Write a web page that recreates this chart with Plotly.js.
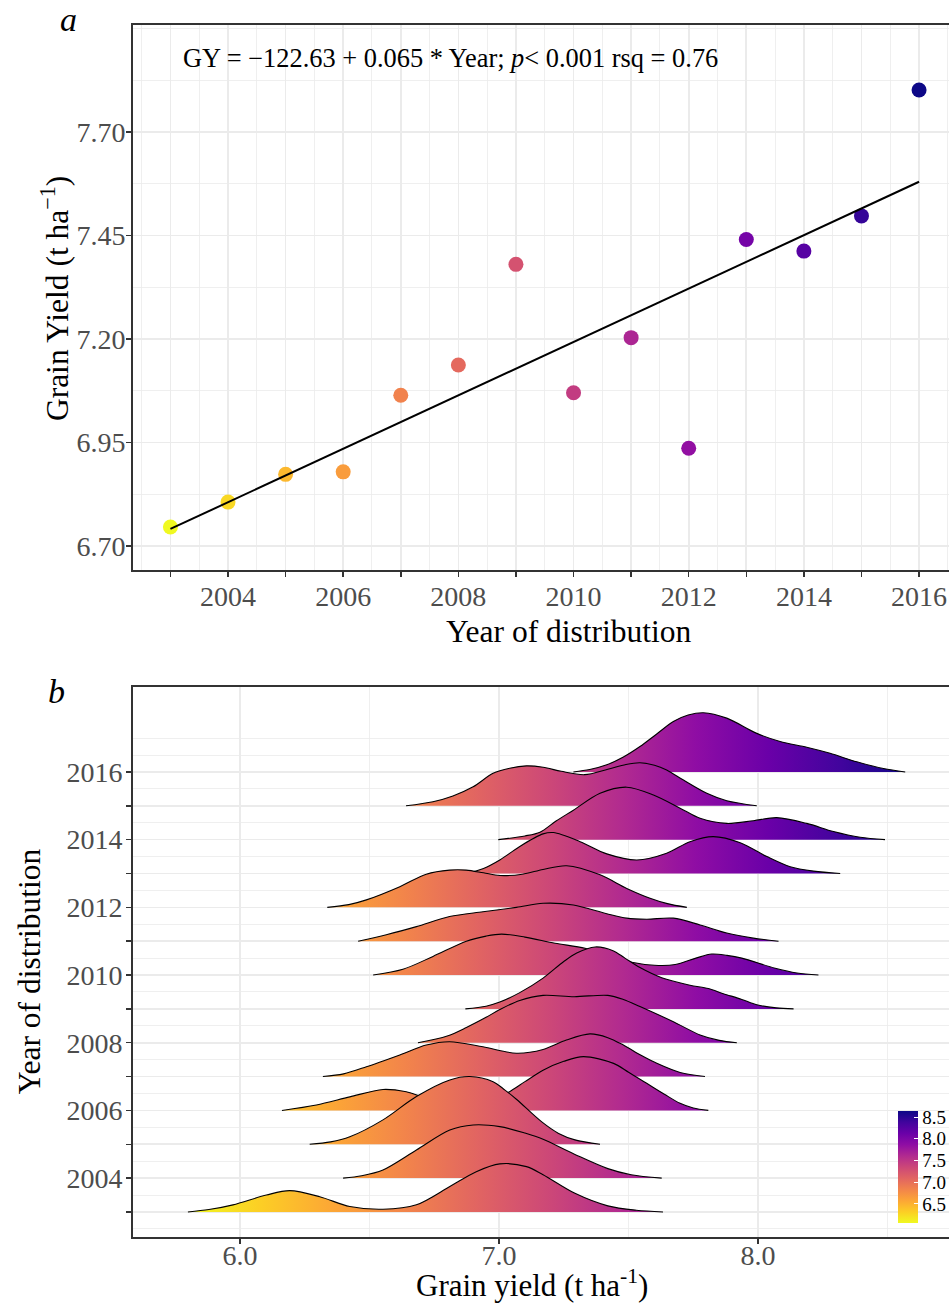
<!DOCTYPE html>
<html><head><meta charset="utf-8">
<script src="https://cdn.plot.ly/plotly-3.0.1.min.js"></script>
<style>html,body{margin:0;padding:0;background:#fff}</style>
</head><body><div id="chart" style="width:950px;height:1305px"></div>
<script>
// ---------- Panel a data ----------
const years = [2003,2004,2005,2006,2007,2008,2009,2010,2011,2012,2013,2014,2015,2016];
const grainYield = [6.746,6.806,6.873,6.879,7.064,7.137,7.380,7.070,7.203,6.936,7.440,7.412,7.497,7.801];
const yTickVals = [6.70,6.95,7.20,7.45,7.70];
const yTickText = ['6.70','6.95','7.20','7.45','7.70'];
const eqText = 'GY = \u2212122.63 + 0.065 * Year; <i>p</i>< 0.001 rsq = 0.76';

// ---------- Panel b data (density ridges: x = grain yield, h = ridge height in row units) ----------
const x2016 = [7.287,7.35,7.416,7.48,7.544,7.61,7.673,7.73,7.789,7.879,7.995,8.085,8.188,8.278,8.381,8.484,8.568];
const h2016 = [0,0.07,0.21,0.44,0.75,1.13,1.49,1.68,1.75,1.59,1.14,0.90,0.73,0.55,0.30,0.10,0];
const x2015 = [6.641,6.745,6.822,6.900,6.977,7.041,7.106,7.170,7.24,7.33,7.42,7.49,7.544,7.60,7.647,7.712,7.802,7.879,7.995];
const h2015 = [0,0.12,0.29,0.56,0.96,1.11,1.18,1.14,1.02,0.92,1.08,1.22,1.27,1.20,1.06,0.76,0.37,0.15,0];
const x2014 = [6.997,7.100,7.158,7.22,7.287,7.390,7.493,7.596,7.699,7.776,7.879,7.982,8.072,8.188,8.291,8.394,8.490];
const h2014 = [0,0.11,0.22,0.55,0.87,1.37,1.55,1.32,0.93,0.63,0.48,0.56,0.65,0.48,0.24,0.07,0];
const x2013 = [6.874,6.94,7.003,7.08,7.170,7.210,7.313,7.416,7.532,7.647,7.737,7.827,7.931,8.034,8.124,8.214,8.317];
const h2013 = [0,0.15,0.40,0.80,1.17,1.21,0.94,0.58,0.40,0.60,0.94,1.09,0.91,0.50,0.20,0.07,0];
const x2012 = [6.337,6.42,6.488,6.617,6.719,6.809,6.873,6.94,7.003,7.09,7.170,7.261,7.390,7.493,7.583,7.65,7.725];
const h2012 = [0,0.08,0.22,0.61,0.98,1.10,1.10,1.02,0.94,0.98,1.12,1.23,0.96,0.56,0.27,0.11,0];
const x2011 = [6.456,6.565,6.681,6.809,6.938,7.067,7.170,7.287,7.416,7.493,7.570,7.673,7.776,7.879,7.982,8.079];
const h2011 = [0,0.19,0.43,0.73,0.87,1.00,1.12,1.07,0.81,0.68,0.65,0.68,0.48,0.24,0.09,0];
const x2010 = [6.514,6.629,6.745,6.874,6.95,7.010,7.10,7.216,7.332,7.42,7.512,7.60,7.680,7.76,7.821,7.88,7.937,8.066,8.15,8.233];
const h2010 = [0,0.17,0.55,1.0,1.15,1.21,1.12,0.94,0.79,0.58,0.38,0.29,0.31,0.50,0.62,0.58,0.50,0.20,0.06,0];
const x2009 = [6.870,6.95,7.003,7.08,7.170,7.25,7.30,7.371,7.44,7.486,7.544,7.628,7.737,7.808,7.866,7.937,7.995,8.07,8.137];
const h2009 = [0,0.08,0.20,0.48,0.91,1.40,1.65,1.83,1.72,1.50,1.22,0.92,0.70,0.60,0.45,0.28,0.12,0.03,0];
const x2008 = [6.687,6.80,6.874,6.95,7.003,7.08,7.17,7.29,7.42,7.48,7.544,7.673,7.776,7.85,7.918];
const h2008 = [0,0.20,0.45,0.75,0.98,1.25,1.40,1.36,1.40,1.28,1.07,0.62,0.23,0.07,0];
const x2007 = [6.320,6.40,6.488,6.617,6.719,6.809,6.938,7.067,7.170,7.26,7.351,7.42,7.480,7.55,7.609,7.699,7.795];
const h2007 = [0,0.08,0.29,0.64,0.93,1.03,0.88,0.69,0.80,1.08,1.26,1.15,0.93,0.62,0.39,0.12,0];
const x2006 = [6.162,6.295,6.424,6.552,6.642,6.707,6.80,6.90,6.96,7.028,7.10,7.170,7.25,7.326,7.442,7.50,7.570,7.64,7.699,7.75,7.808];
const h2006 = [0,0.16,0.40,0.62,0.55,0.40,0.28,0.26,0.33,0.50,0.85,1.19,1.45,1.59,1.39,1.13,0.80,0.47,0.21,0.07,0];
const x2005 = [6.269,6.35,6.424,6.552,6.681,6.810,6.887,6.977,7.023,7.067,7.165,7.23,7.293,7.39];
const h2005 = [0,0.07,0.22,0.72,1.41,1.90,2.00,1.85,1.60,1.33,0.66,0.32,0.13,0];
const x2004 = [6.398,6.47,6.552,6.681,6.810,6.900,7.003,7.10,7.17,7.293,7.42,7.51,7.628];
const h2004 = [0,0.07,0.24,0.83,1.42,1.57,1.52,1.33,1.15,0.70,0.28,0.10,0];
const x2003 = [5.799,5.88,5.973,6.102,6.192,6.308,6.424,6.552,6.681,6.810,6.912,7.003,7.106,7.17,7.293,7.42,7.53,7.633];
const h2003 = [0,0.07,0.21,0.50,0.63,0.45,0.16,0.08,0.21,0.75,1.19,1.42,1.34,1.10,0.55,0.18,0.05,0];

const ridgeYears = [2016,2015,2014,2013,2012,2011,2010,2009,2008,2007,2006,2005,2004,2003];
const ridgeX = [x2016,x2015,x2014,x2013,x2012,x2011,x2010,x2009,x2008,x2007,x2006,x2005,x2004,x2003];
const ridgeH = [h2016,h2015,h2014,h2013,h2012,h2011,h2010,h2009,h2008,h2007,h2006,h2005,h2004,h2003];
const xTickVals2 = [6,7,8];
const xTickText2 = ['6.0','7.0','8.0'];
const cbTickVals = [6.5,7.0,7.5,8.0,8.5];
const cbTickText = ['6.5','7.0','7.5','8.0','8.5'];

// ---------- styling ----------
const FONT = 'Liberation Serif, Times New Roman, serif';
const plasmaRev = [[0,'#f0f921'],[0.1,'#fcce25'],[0.2,'#fca636'],[0.3,'#f2844b'],[0.4,'#e16462'],
  [0.5,'#cc4778'],[0.6,'#b12a90'],[0.7,'#8f0da4'],[0.8,'#6a00a8'],[0.9,'#41049d'],[1,'#0d0887']];
const W = 950, H = 1305, ML = 133, MR = 0, MT = 25, MB = 68;
const PW = W - ML - MR, PH = H - MT - MB;
const fx = p => (p - ML) / PW;
const fy = p => (H - MB - p) / PH;

// regression fit from the data
const n = years.length;
const mx = years.reduce((a,b)=>a+b,0)/n, my = grainYield.reduce((a,b)=>a+b,0)/n;
let sxy = 0, sxx = 0;
for (let i=0;i<n;i++){ sxy += (years[i]-mx)*(grainYield[i]-my); sxx += (years[i]-mx)**2; }
const slope = sxy/sxx, icpt = my - slope*mx;
const fitX = [years[0], years[n-1]];
const fitY = fitX.map(v => icpt + slope*v);

const traces = [];
traces.push({type:'scatter', mode:'markers', x: years, y: grainYield, xaxis:'x', yaxis:'y',
  marker:{size:15, color: years, colorscale: plasmaRev, cmin: 2003, cmax: 2016, line:{width:0}},
  hoverinfo:'skip', showlegend:false});
traces.push({type:'scatter', mode:'lines', x: fitX, y: fitY, xaxis:'x', yaxis:'y',
  line:{color:'#000', width:2}, hoverinfo:'skip', showlegend:false});

ridgeYears.forEach((yr, k) => {
  traces.push({type:'scatter', mode:'lines', x: ridgeX[k], y: ridgeH[k].map(h => yr + h),
    xaxis:'x2', yaxis:'y2', fill:'toself',
    fillgradient:{type:'horizontal', start:5.8, stop:8.6, colorscale: plasmaRev},
    line:{color:'#000', width:1.1, shape:'spline', smoothing:0.9},
    hoverinfo:'skip', showlegend:false});
});

traces.push({type:'scatter', mode:'markers', x:[7,7], y:[2010,2010], xaxis:'x2', yaxis:'y2',
  marker:{size:1, opacity:0, color:[6.06,8.64], cmin:6.06, cmax:8.64, colorscale: plasmaRev, showscale:true,
    colorbar:{x: fx(898), xanchor:'left', y: fy(1167), yanchor:'middle', len:112, lenmode:'pixels',
      thickness:20, thicknessmode:'pixels', outlinewidth:0, xpad:0, ypad:0,
      ticks:'inside', ticklen:4, tickcolor:'#ffffff', tickwidth:1,
      tickmode:'array', tickvals: cbTickVals, ticktext: cbTickText,
      tickfont:{family:FONT, size:19, color:'#000'}}},
  hoverinfo:'skip', showlegend:false});

const minorA_x = []; for (let v=2002.5; v<=2016.6; v+=1) minorA_x.push(v);
const minorA_y = [6.825,7.075,7.325,7.575,7.825,7.95];
const minorB_y = []; for (let v=2002.5; v<=2017.01; v+=0.5) minorB_y.push(v);
const minorB_x = [6.5,7.5,8.5];

const axisCommon = {showline:true, linecolor:'#333333', linewidth:2, ticks:'outside', ticklen:5,
  tickwidth:1.5, tickcolor:'#333333', showgrid:true, gridcolor:'#ebebeb', gridwidth:1.6, zeroline:false,
  tickfont:{family:FONT, size:28, color:'#4d4d4d'}, fixedrange:true};
const minorCommon = {showgrid:true, gridcolor:'#ebebeb', gridwidth:0.8, ticks:''};

const layout = {
  width: W, height: H, margin:{l:ML, r:MR, t:MT, b:MB},
  paper_bgcolor:'#fff', plot_bgcolor:'#fff', showlegend:false,
  font:{family:FONT, color:'#000'},
  xaxis: Object.assign({}, axisCommon, {domain:[0,1], anchor:'y', range:[2002.35, 2016.52], mirror:true,
    tickmode:'array', tickvals: years, ticktext: years.map(v => v%2===0 ? String(v) : ''),
    ticklabelstandoff:-5,
    minor: Object.assign({tickvals: minorA_x}, minorCommon)}),
  yaxis: Object.assign({}, axisCommon, {domain:[fy(570), 1], anchor:'x', range:[6.642, 7.958],
    tickmode:'array', tickvals: yTickVals, ticktext: yTickText, ticklabelstandoff:-5,
    minor: Object.assign({tickvals: minorA_y}, minorCommon)}),
  xaxis2: Object.assign({}, axisCommon, {domain:[0,1], anchor:'y2', range:[5.587, 8.737], mirror:true,
    tickmode:'array', tickvals: xTickVals2, ticktext: xTickText2, ticklabelstandoff:-13,
    minor: Object.assign({tickvals: minorB_x}, minorCommon)}),
  yaxis2: Object.assign({}, axisCommon, {domain:[0, fy(687)], anchor:'x2', range:[2002.26, 2018.51],
    tickmode:'array', tickvals: years, ticktext: years.map(v => v%2===0 ? String(v) : ''),
    ticklabelstandoff:-2,
    minor: Object.assign({tickvals: minorB_y}, minorCommon)}),
  annotations: [
    {xref:'paper', yref:'paper', x: fx(181), y: fy(58), xanchor:'left', yanchor:'middle', showarrow:false,
     text: eqText, font:{family:FONT, size:26.4, color:'#000'}},
    {xref:'paper', yref:'paper', x: fx(68), y: fy(20), xanchor:'center', yanchor:'middle', showarrow:false,
     text:'<i>a</i>', font:{family:FONT, size:34, color:'#000'}},
    {xref:'paper', yref:'paper', x: fx(56), y: fy(691), xanchor:'center', yanchor:'middle', showarrow:false,
     text:'<i>b</i>', font:{family:FONT, size:34, color:'#000'}},
    {xref:'paper', yref:'paper', x: fx(570), y: fy(632), xanchor:'center', yanchor:'middle', showarrow:false,
     text:'Year of distribution', font:{family:FONT, size:31.5, color:'#000'}},
    {xref:'paper', yref:'paper', x: fx(55), y: fy(299), xanchor:'center', yanchor:'middle', showarrow:false,
     textangle:-90, text:'Grain Yield (t ha<sup>\u22121</sup>)', font:{family:FONT, size:31.5, color:'#000'}},
    {xref:'paper', yref:'paper', x: fx(532), y: fy(1283), xanchor:'center', yanchor:'middle', showarrow:false,
     text:'Grain yield (t ha<sup>-1</sup>)', font:{family:FONT, size:31, color:'#000'}},
    {xref:'paper', yref:'paper', x: fx(29), y: fy(971), xanchor:'center', yanchor:'middle', showarrow:false,
     textangle:-90, text:'Year of distribution', font:{family:FONT, size:31.5, color:'#000'}}
  ]
};

Plotly.newPlot('chart', traces, layout, {staticPlot:true, displayModeBar:false});
</script>
</body></html>
